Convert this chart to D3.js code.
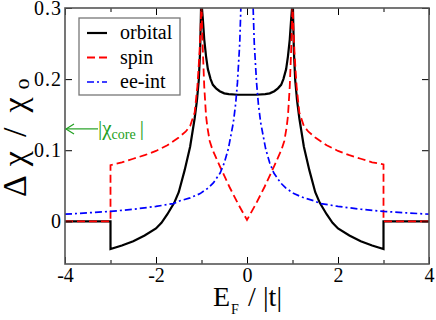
<!DOCTYPE html>
<html>
<head>
<meta charset="utf-8">
<script src="https://cdn.jsdelivr.net/npm/d3@7"></script>
<style>
  body { margin: 0; background: #fff; }
</style>
</head>
<body>
<div id="chart"></div>
<script>
/* Data */
var orbitalE = [-4, -3, -3, -2.75, -2.5, -2.25, -2.0, -1.88, -1.75, -1.6, -1.5, -1.37, -1.25, -1.15, -1.1, -1.06, -1.03, -1.01,
  -0.99, -0.97, -0.94, -0.9, -0.86, -0.8, -0.75, -0.68, -0.6, -0.5, -0.4, -0.2, 0, 0.2, 0.4, 0.5, 0.6, 0.68, 0.75, 0.8, 0.86, 0.9, 0.94, 0.97, 0.99,
  1.01, 1.03, 1.06, 1.1, 1.15, 1.25, 1.37, 1.5, 1.6, 1.75, 1.88, 2.0, 2.25, 2.5, 2.75, 3, 3, 4];
var orbitalV = [0, 0, -0.039, -0.034, -0.028, -0.020, -0.010, -0.002, 0.010, 0.026, 0.041, 0.072, 0.105, 0.145, 0.170, 0.198, 0.240, 0.300,
  0.300, 0.284, 0.256, 0.232, 0.214, 0.200, 0.192, 0.187, 0.183, 0.180, 0.179, 0.178, 0.178, 0.178, 0.179, 0.180, 0.183, 0.187, 0.192, 0.200, 0.214, 0.232, 0.256, 0.284, 0.300,
  0.300, 0.240, 0.198, 0.170, 0.145, 0.105, 0.072, 0.041, 0.026, 0.010, -0.002, -0.010, -0.020, -0.028, -0.034, -0.039, 0, 0];

var spinE = [-4, -3, -3, -2.75, -2.5, -2.25, -2.0, -1.75, -1.5, -1.35, -1.25, -1.15, -1.09, -1.05, -1.02, -1.005,
  -0.998, -0.99, -0.97, -0.94, -0.9, -0.87, -0.82, -0.76, -0.6, -0.39, -0.2, 0, 0.2, 0.39, 0.6, 0.76, 0.82, 0.87, 0.9, 0.94, 0.97, 0.99, 0.998,
  1.005, 1.02, 1.05, 1.09, 1.15, 1.25, 1.35, 1.5, 1.75, 2.0, 2.25, 2.5, 2.75, 3, 3, 4];
var spinV = [0, 0, 0.079, 0.083, 0.088, 0.093, 0.099, 0.107, 0.118, 0.126, 0.134, 0.153, 0.190, 0.230, 0.270, 0.300,
  0.300, 0.280, 0.240, 0.190, 0.148, 0.132, 0.113, 0.101, 0.078, 0.049, 0.025, 0.002, 0.025, 0.049, 0.078, 0.101, 0.113, 0.132, 0.148, 0.190, 0.240, 0.280, 0.300,
  0.300, 0.270, 0.230, 0.190, 0.153, 0.134, 0.126, 0.118, 0.107, 0.099, 0.093, 0.088, 0.083, 0.080, 0, 0];

var eeE = [-4, -3.5, -3, -2.5, -2, -1.62, -1.47, -1.25, -1.03, -0.85, -0.74, -0.59, -0.5, -0.41, -0.3, -0.25, -0.21, -0.16, -0.135,
  0, 0.135, 0.16, 0.21, 0.25, 0.3, 0.41, 0.5, 0.59, 0.74, 0.85, 1.03, 1.25, 1.47, 1.62, 2, 2.5, 3, 3.5, 4];
var eeV = [0.010, 0.012, 0.014, 0.017, 0.021, 0.025, 0.029, 0.033, 0.039, 0.047, 0.054, 0.068, 0.082, 0.102, 0.139, 0.165, 0.195, 0.250, 0.300,
  NaN, 0.300, 0.250, 0.195, 0.165, 0.139, 0.102, 0.082, 0.068, 0.054, 0.047, 0.039, 0.033, 0.029, 0.025, 0.021, 0.017, 0.014, 0.012, 0.010];

var chiCore = 0.130;
var xMajor = [-4, -2, 0, 2, 4], xMinor = [-3, -1, 1, 3];
var xLabels = ["-4", "-2", "0", "2", "4"];
var yMajor = [0, 0.1, 0.2, 0.3];
var yLabels = ["0", "0.1", "0.2", "0.3"];
var legendNames = ["orbital", "spin", "ee-int"];

var W = 436, H = 320;
var margin = { top: 8, right: 7, bottom: 56, left: 65 };
var width = W - margin.left - margin.right,
  height = H - margin.top - margin.bottom;

var svg = d3.select("#chart").append("svg")
  .attr("width", W)
  .attr("height", H);
var g = svg.append("g")
  .attr("transform", "translate(" + margin.left + "," + margin.top + ")");

var x = d3.scaleLinear().domain([-4, 4]).range([0, width]);
var y = d3.scaleLinear().domain([-0.06, 0.3]).range([height, 0]);

g.append("clipPath").attr("id", "clip")
  .append("rect").attr("width", width).attr("height", height);

/* Curves */
function zip(es, vs) {
  return es.map(function(e, i) { return [e, vs[i]]; });
}
var line = d3.line()
  .defined(function(d) { return !isNaN(d[1]); })
  .x(function(d) { return x(d[0]); })
  .y(function(d) { return y(d[1]); });

var series = [
  { name: "orbital", data: zip(orbitalE, orbitalV), color: "#000", w: 2.2, dash: null },
  { name: "spin", data: zip(spinE, spinV), color: "#ff0000", w: 1.8, dash: "8,4" },
  { name: "ee-int", data: zip(eeE, eeV), color: "#0000ff", w: 1.7, dash: "7,3,2,3" }
];

var plot = g.append("g").attr("clip-path", "url(#clip)");
series.forEach(function(s) {
  plot.append("path")
    .datum(s.data)
    .attr("fill", "none")
    .attr("stroke", s.color)
    .attr("stroke-width", s.w)
    .attr("stroke-dasharray", s.dash)
    .attr("d", line);
});

/* Axes: ticks inward on all four sides */
var axB = g.append("g").attr("transform", "translate(0," + height + ")")
  .call(d3.axisBottom(x).tickValues(xMajor).tickSizeInner(-7).tickSizeOuter(0).tickPadding(4)
    .tickFormat(function(d, i) { return xLabels[i]; }));
var axBm = g.append("g").attr("transform", "translate(0," + height + ")")
  .call(d3.axisBottom(x).tickValues(xMinor).tickSizeInner(-4).tickSizeOuter(0).tickFormat(""));
var axT = g.append("g")
  .call(d3.axisTop(x).tickValues(xMajor).tickSizeInner(-7).tickSizeOuter(0).tickFormat(""));
var axTm = g.append("g")
  .call(d3.axisTop(x).tickValues(xMinor).tickSizeInner(-4).tickSizeOuter(0).tickFormat(""));
var axL = g.append("g")
  .call(d3.axisLeft(y).tickValues(yMajor).tickSizeInner(-7).tickSizeOuter(0).tickPadding(3)
    .tickFormat(function(d, i) { return yLabels[i]; }));
var axR = g.append("g").attr("transform", "translate(" + width + ",0)")
  .call(d3.axisRight(y).tickValues(yMajor).tickSizeInner(-7).tickSizeOuter(0).tickFormat(""));

[axB, axBm, axT, axTm, axL, axR].forEach(function(a) {
  a.attr("font-size", 20);
  a.select(".domain").remove();
  a.selectAll(".tick line").attr("stroke", "#000").attr("stroke-width", 1);
  a.selectAll(".tick text").attr("fill", "#000");
});
axL.selectAll(".tick text").attr("letter-spacing", 1);

/* Frame */
g.append("rect")
  .attr("width", width).attr("height", height)
  .attr("fill", "none").attr("stroke", "#555").attr("stroke-width", 1.6);

/* Legend */
var lg = g.append("g").attr("transform", "translate(14,10)");
lg.append("rect").attr("width", 101).attr("height", 77)
  .attr("fill", "#fff").attr("stroke", "#777").attr("stroke-width", 1.3);
series.forEach(function(s, i) {
  var row = lg.append("g").attr("transform", "translate(0," + (15 + i * 24.5) + ")");
  row.append("line").attr("x1", 8).attr("x2", 28)
    .attr("stroke", s.color).attr("stroke-width", s.w).attr("stroke-dasharray", s.dash);
  row.append("text").attr("x", 41).attr("y", 6)
    .attr("font-size", 20).text(legendNames[i]);
});

/* |chi_core| marker */
var green = "#22a022";
var ya = y(chiCore);
g.append("line").attr("x1", 1).attr("x2", 33).attr("y1", ya).attr("y2", ya)
  .attr("stroke", green).attr("stroke-width", 1.2);
g.append("path").attr("d", "M9," + (ya - 5) + "L1," + ya + "L9," + (ya + 5))
  .attr("fill", "none").attr("stroke", green).attr("stroke-width", 1.2);
var ct = g.append("text").attr("x", 33).attr("y", ya + 6).attr("fill", green).attr("font-size", 21);
ct.append("tspan").text("|χ");
ct.append("tspan").attr("font-size", 14).attr("dy", 4).text("core");
ct.append("tspan").attr("dy", -4).attr("dx", 4).text("|");

/* Axis titles */
var xt = svg.append("text").attr("x", 213).attr("y", 306).attr("font-size", 28);
xt.append("tspan").text("E");
xt.append("tspan").attr("font-size", 14).attr("dy", 8).attr("dx", 1).text("F");
xt.append("tspan").attr("x", 248).attr("dy", -8).text("/");
xt.append("tspan").attr("x", 263).text("|t|");

var yt = svg.append("text").attr("transform", "translate(26,197) rotate(-90)").attr("font-size", 34);
yt.append("tspan").text("Δ");
yt.append("tspan").attr("dx", 9).text("χ");
yt.append("tspan").attr("dx", 14).text("/");
yt.append("tspan").attr("dx", 15).text("χ");
yt.append("tspan").attr("font-size", 22).attr("dy", 3).attr("dx", 8).text("o");

/* one serif face for every label */
svg.selectAll("text").style("font-family", "'Liberation Serif'");
</script>
</body>
</html>
